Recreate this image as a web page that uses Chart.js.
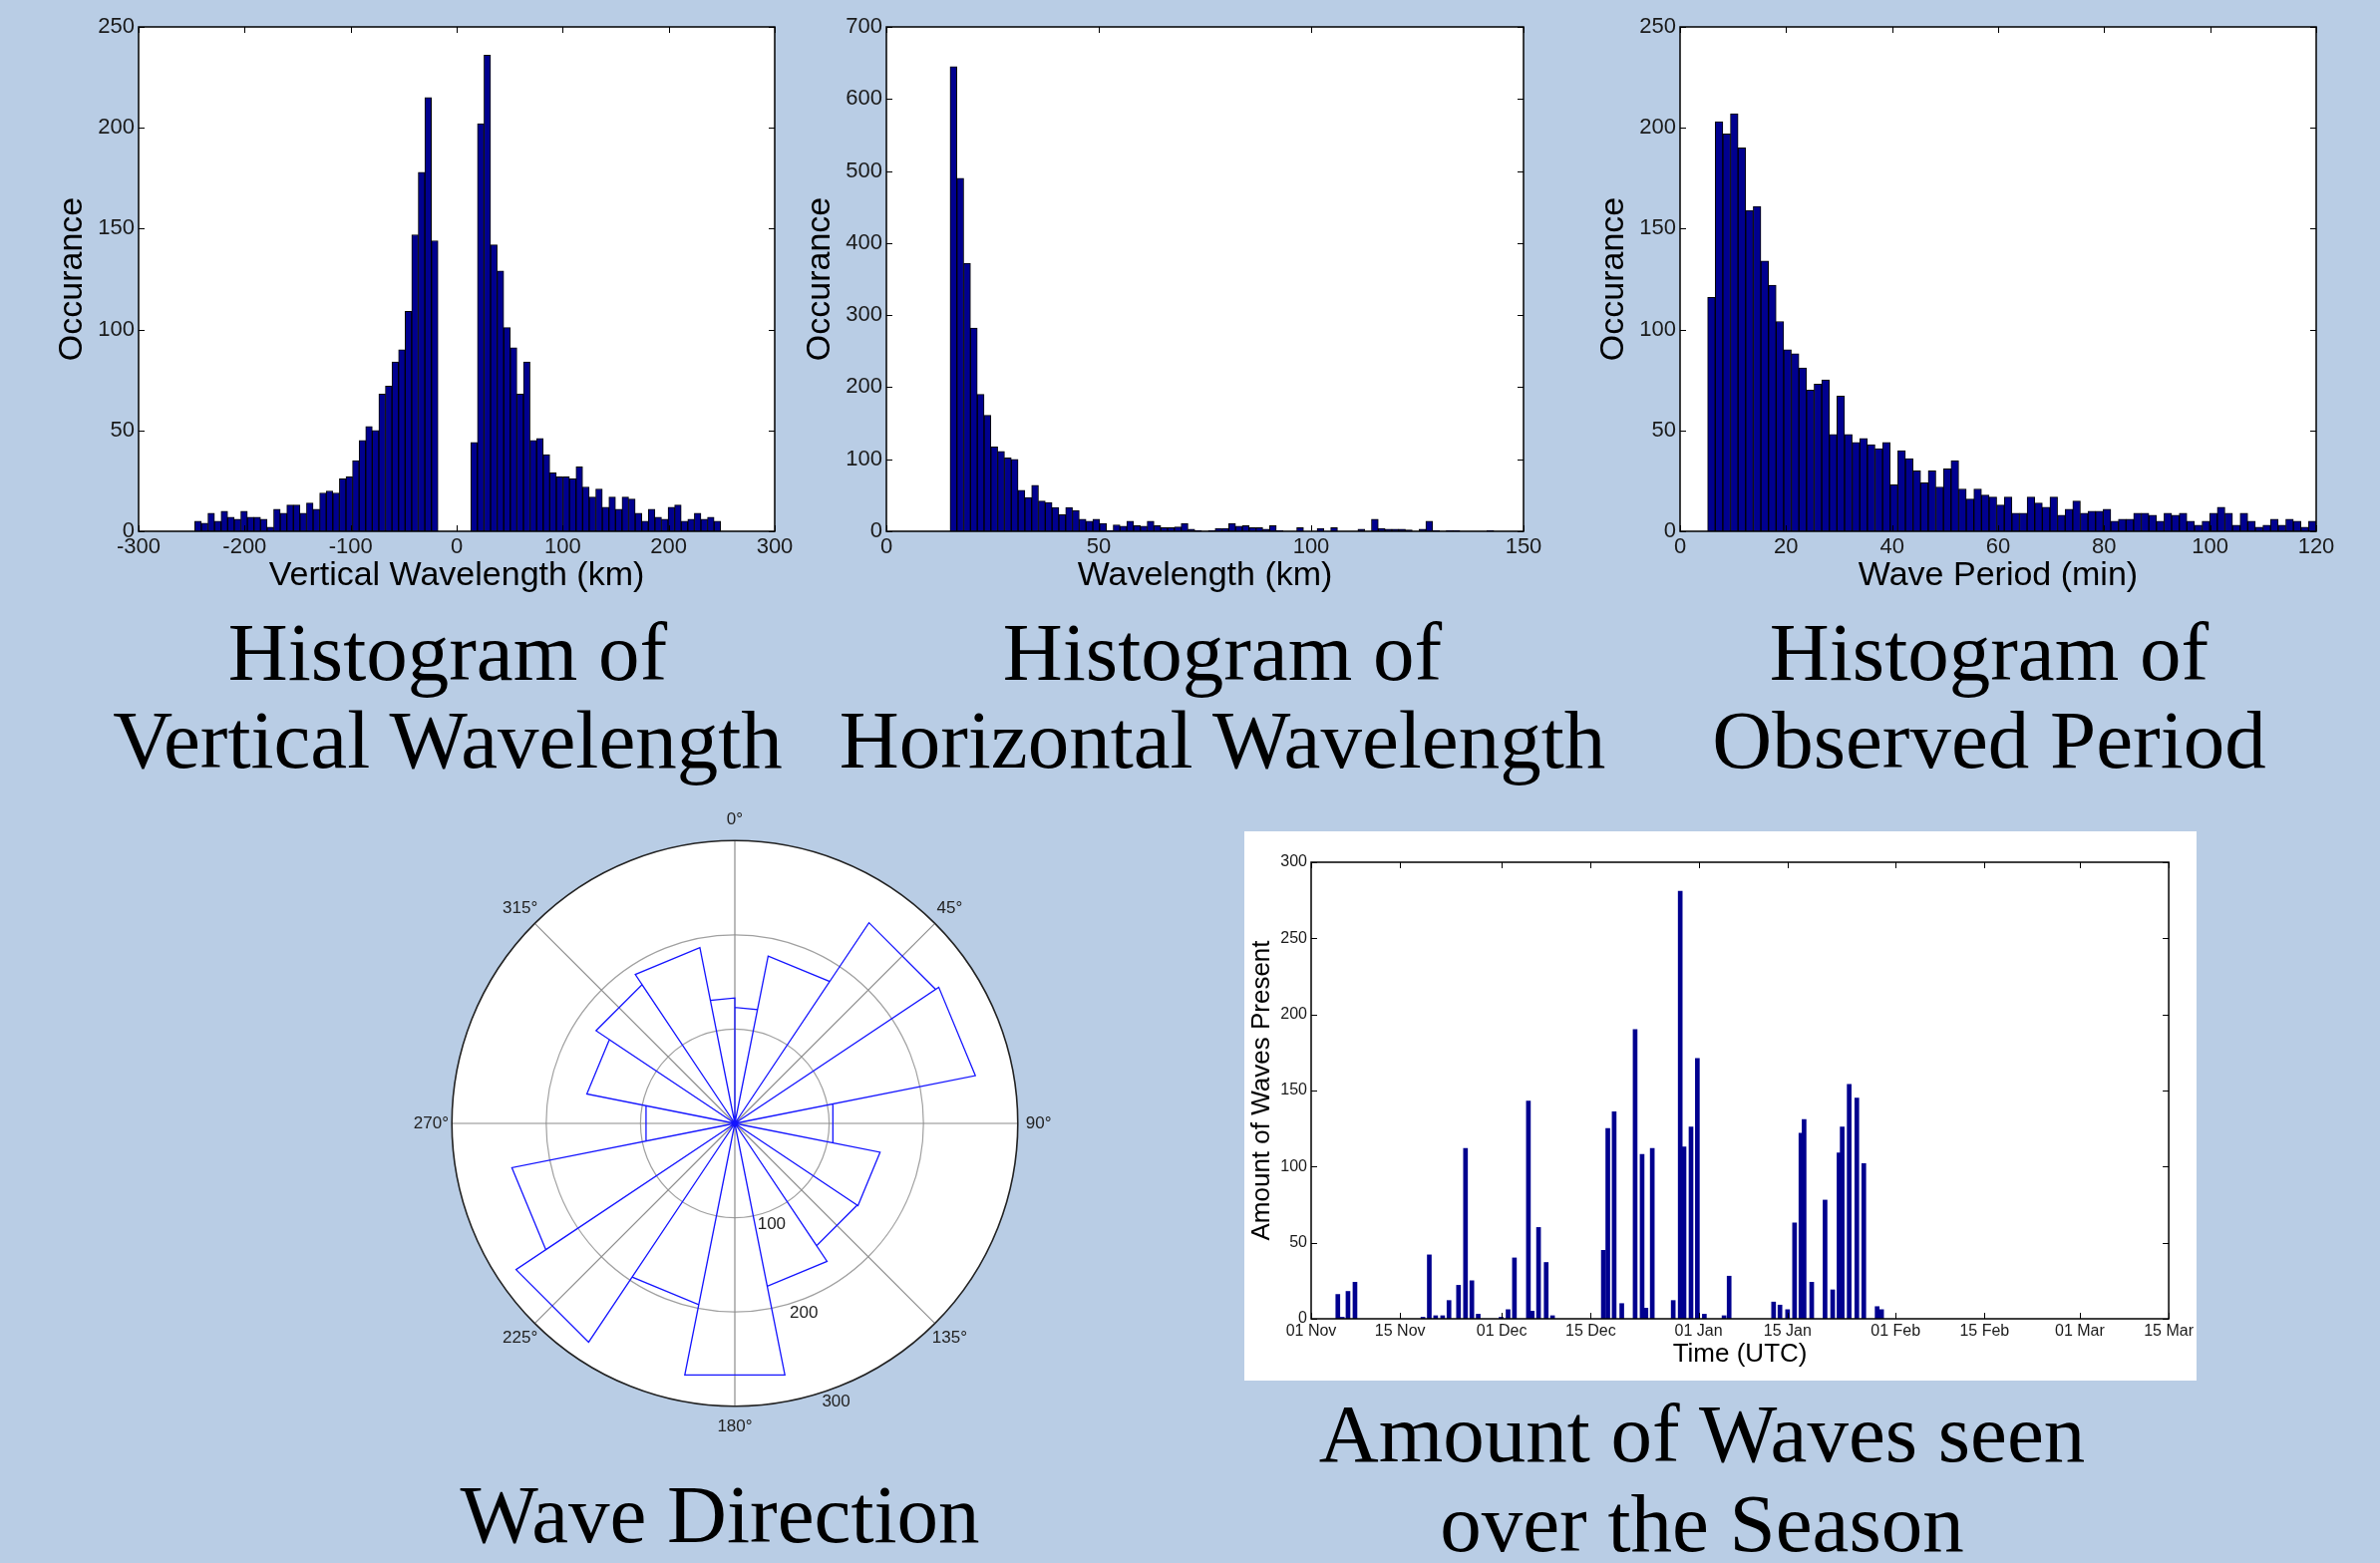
<!DOCTYPE html>
<html>
<head>
<meta charset="utf-8">
<title>Gravity wave statistics</title>
<script src="https://cdn.jsdelivr.net/npm/chart.js@4.4.1/dist/chart.umd.min.js"></script>
<style>
  body { margin: 0; width: 2387px; height: 1568px; background: #b9cde5; position: relative; overflow: hidden; }
  canvas { position: absolute; }
  .title { position: absolute; width: 1000px; text-align: center; white-space: nowrap;
           font-family: 'Liberation Serif', 'Times New Roman', serif; font-size: 83px; line-height: 88px; color: #000; }
</style>
</head>
<body>
<canvas id="vert" width="767" height="601" style="left:50px;top:0px"></canvas>
<canvas id="horiz" width="768" height="601" style="left:800px;top:0px"></canvas>
<canvas id="period" width="767" height="601" style="left:1596px;top:0px"></canvas>
<canvas id="rose" width="700" height="700" style="left:387px;top:777px"></canvas>
<canvas id="season" width="955" height="551" style="left:1248px;top:834px;background:#fff"></canvas>

<div class="title" style="left:-51px;top:610px">Histogram of<br>Vertical Wavelength</div>
<div class="title" style="left:726px;top:610px">Histogram of<br>Horizontal Wavelength</div>
<div class="title" style="left:1495px;top:610px">Histogram of<br>Observed Period</div>
<div class="title" style="left:222px;top:1475px">Wave Direction</div>
<div class="title" style="left:1207px;top:1393px;line-height:90px">Amount of Waves seen<br>over the Season</div>

<script>
// ---- values ----

// vertical wavelength histogram (km), 80 equal bins
const vertBinStart = -247;
const vertBinWidth = 6.2;
const vertCounts = [5, 4, 9, 5, 10, 7, 6, 10, 7, 7, 6, 2, 11, 9, 13, 13, 9, 14, 11, 19,
  20, 19, 26, 27, 35, 45, 52, 50, 68, 72, 84, 90, 109, 147, 178, 215, 144,
  0, 0, 0, 0, 0,
  44, 202, 236, 142, 129, 101, 91, 68, 84, 45, 46, 38, 29, 27, 27, 26, 32, 22, 17, 21,
  12, 17, 11, 17, 16, 9, 5, 11, 7, 6, 12, 13, 5, 6, 9, 6, 7, 5];
const vertXTicks = [-300, -200, -100, 0, 100, 200, 300];
const vertYTicks = [0, 50, 100, 150, 200, 250];

// horizontal wavelength histogram (km)
const horizBinStart = 15;
const horizBinWidth = 1.6;
const horizCounts = [645, 490, 372, 282, 190, 161, 117, 111, 102, 100, 57, 47, 64, 42, 40, 33, 23, 33, 29, 17,
  14, 17, 11, 1, 9, 7, 14, 8, 7, 14, 8, 5, 5, 6, 11, 3, 1, 0, 1, 4,
  4, 11, 7, 8, 5, 5, 3, 8, 1, 0, 0, 5, 0, 0, 4, 0, 5, 0, 0, 0,
  3, 0, 17, 4, 3, 3, 3, 2, 0, 3, 14, 1, 0, 1, 1, 0, 0, 0, 0, 1];
const horizXTicks = [0, 50, 100, 150];
const horizYTicks = [0, 100, 200, 300, 400, 500, 600, 700];

// observed period histogram (min)
const periodBinStart = 5.2;
const periodBinWidth = 1.435;
const periodCounts = [116, 203, 197, 207, 190, 159, 161, 134, 122, 104, 90, 88, 81, 70, 73, 75, 48, 67, 48, 44,
  46, 43, 41, 44, 23, 40, 36, 30, 24, 30, 22, 31, 35, 21, 16, 21, 18, 17, 13, 17,
  9, 9, 17, 14, 12, 17, 8, 11, 15, 9, 10, 10, 11, 5, 6, 6, 9, 9, 8, 5,
  9, 8, 9, 5, 3, 5, 9, 12, 9, 3, 9, 5, 2, 3, 6, 3, 6, 5, 2, 5];
const periodXTicks = [0, 20, 40, 60, 80, 100, 120];
const periodYTicks = [0, 50, 100, 150, 200, 250];

// wave direction rose, bin edges in degrees clockwise from north
const roseEdges = [0, 11.25, 33.75, 56.25, 78.75, 101.25, 123.75, 146.25, 168.75, 191.25,
  213.75, 236.25, 258.75, 281.25, 303.75, 326.25, 348.75, 360];
const roseCounts = [123, 181, 256, 260, 106, 157, 156, 176, 272, 196, 279, 241, 96, 160, 177, 190, 133];
const roseRings = [100, 200, 300];
const roseAngleTicks = [0, 45, 90, 135, 180, 225, 270, 315];

// waves per day, x = days after 01 Nov
const waveDays = [4.2, 4.9, 5.8, 6.9, 17.6, 18.6, 19.6, 20.7, 21.7, 23.2, 24.3, 25.3, 26.3,
  29.9, 31.0, 32.0, 34.2, 34.8, 35.8, 37.0, 38.0, 46.0, 46.7, 47.7, 48.9, 51.0, 52.1, 52.7, 53.7,
  57.0, 58.1, 58.7, 59.8, 60.8, 61.9, 65.0, 65.8, 72.8, 73.8, 75.0, 76.1, 77.1, 77.6, 78.8,
  80.9, 82.1, 83.1, 83.6, 84.7, 85.9, 87.0, 89.1, 89.8];
const waveCounts = [16, 1, 18, 24, 1, 42, 2, 2, 12, 22, 112, 25, 3,
  1, 6, 40, 143, 5, 60, 37, 2, 45, 125, 136, 10, 190, 108, 7, 112,
  12, 281, 113, 126, 171, 3, 2, 28, 11, 9, 6, 63, 122, 131, 24,
  78, 19, 109, 126, 154, 145, 102, 8, 6];
const timeTickDays = [0, 14, 30, 44, 61, 75, 92, 106, 121, 135];
const timeTickLabels = ['01 Nov', '15 Nov', '01 Dec', '15 Dec', '01 Jan', '15 Jan', '01 Feb', '15 Feb', '01 Mar', '15 Mar'];
const seasonYTicks = [0, 50, 100, 150, 200, 250, 300];

// ---- drawing ----
const NAVY = '#00008f';
Chart.defaults.font.family = "'Liberation Sans', Arial, sans-serif";
Chart.defaults.color = '#1a1a1a';

// white plot area, black box and inward ticks on all four sides (matlab look)
const plotBox = {
  id: 'plotBox',
  beforeDraw(chart) {
    const { ctx, chartArea: a } = chart;
    ctx.save();
    ctx.fillStyle = '#fff';
    ctx.fillRect(a.left, a.top, a.right - a.left, a.bottom - a.top);
    ctx.restore();
  },
  afterDatasetsDraw(chart) {
    const { ctx, chartArea: a, scales: { x, y } } = chart;
    const len = 6;
    ctx.save();
    ctx.strokeStyle = '#000';
    ctx.lineWidth = 1;
    ctx.beginPath();
    x.ticks.forEach(t => {
      const px = Math.round(x.getPixelForValue(t.value)) + 0.5;
      ctx.moveTo(px, a.bottom); ctx.lineTo(px, a.bottom - len);
      ctx.moveTo(px, a.top); ctx.lineTo(px, a.top + len);
    });
    y.ticks.forEach(t => {
      const py = Math.round(y.getPixelForValue(t.value)) + 0.5;
      ctx.moveTo(a.left, py); ctx.lineTo(a.left + len, py);
      ctx.moveTo(a.right, py); ctx.lineTo(a.right - len, py);
    });
    ctx.stroke();
    ctx.lineWidth = 1.5;
    ctx.strokeRect(a.left, a.top, a.right - a.left, a.bottom - a.top);
    ctx.restore();
  }
};

function fixedTicks(list) {
  return s => { s.ticks = list.map(v => ({ value: v })); };
}

function histogram(id, binStart, binWidth, counts, xTicks, yTicks, xTitle) {
  const pts = counts.map((c, i) => ({ x: binStart + binWidth * (i + 0.5), y: c }));
  new Chart(document.getElementById(id), {
    type: 'bar',
    data: {
      datasets: [{
        data: pts,
        backgroundColor: NAVY,
        borderColor: '#000',
        borderWidth: 1,
        borderSkipped: 'start',
        barPercentage: 1,
        categoryPercentage: 1
      }]
    },
    options: {
      responsive: false,
      animation: false,
      layout: { padding: { top: 27, right: 40 } },
      plugins: { legend: { display: false }, tooltip: { enabled: false } },
      scales: {
        x: {
          type: 'linear', offset: false,
          min: xTicks[0], max: xTicks[xTicks.length - 1],
          afterBuildTicks: fixedTicks(xTicks),
          afterFit: s => { s.height = 68; },
          grid: { display: false, drawTicks: false },
          border: { display: false },
          ticks: { font: { size: 22 }, padding: 3, maxRotation: 0, autoSkip: false },
          title: { display: true, text: xTitle, color: '#000', font: { size: 34 }, padding: { top: 4, bottom: 3 } }
        },
        y: {
          min: yTicks[0], max: yTicks[yTicks.length - 1],
          afterBuildTicks: fixedTicks(yTicks),
          afterFit: s => { s.width = 89; },
          grid: { display: false, drawTicks: false },
          border: { display: false },
          ticks: { font: { size: 22 }, padding: 4 },
          title: { display: true, text: 'Occurance', color: '#000', font: { size: 34 }, padding: { top: 2, bottom: 4 } }
        }
      }
    },
    plugins: [plotBox]
  });
}

histogram('vert', vertBinStart, vertBinWidth, vertCounts, vertXTicks, vertYTicks, 'Vertical Wavelength (km)');
histogram('horiz', horizBinStart, horizBinWidth, horizCounts, horizXTicks, horizYTicks, 'Wavelength (km)');
histogram('period', periodBinStart, periodBinWidth, periodCounts, periodXTicks, periodYTicks, 'Wave Period (min)');

// rose diagram: rings, spokes and labels drawn under the petals
const roseGrid = {
  id: 'roseGrid',
  beforeDatasetsDraw(chart) {
    const { ctx, scales: { x, y } } = chart;
    const cx = x.getPixelForValue(0), cy = y.getPixelForValue(0);
    const k = x.getPixelForValue(1) - cx;
    const rMax = roseRings[roseRings.length - 1] * k;
    const rad = d => d * Math.PI / 180;
    ctx.save();
    ctx.fillStyle = '#fff';
    ctx.beginPath(); ctx.arc(cx, cy, rMax, 0, 2 * Math.PI); ctx.fill();

    ctx.strokeStyle = '#a0a0a0';
    ctx.lineWidth = 1.2;
    roseRings.slice(0, -1).forEach(r => {
      ctx.beginPath(); ctx.arc(cx, cy, r * k, 0, 2 * Math.PI); ctx.stroke();
    });
    ctx.strokeStyle = '#8c8c8c';
    roseAngleTicks.forEach(a => {
      ctx.beginPath();
      ctx.moveTo(cx, cy);
      ctx.lineTo(cx + rMax * Math.sin(rad(a)), cy - rMax * Math.cos(rad(a)));
      ctx.stroke();
    });
    ctx.strokeStyle = '#222';
    ctx.lineWidth = 1.6;
    ctx.beginPath(); ctx.arc(cx, cy, rMax, 0, 2 * Math.PI); ctx.stroke();

    ctx.fillStyle = '#222';
    ctx.font = "17px 'Liberation Sans', Arial, sans-serif";
    ctx.textAlign = 'center';
    ctx.textBaseline = 'middle';
    roseAngleTicks.forEach(a => {
      const r = 322 * k;
      ctx.fillText(a + '°', cx + r * Math.sin(rad(a)), cy - r * Math.cos(rad(a)));
    });
    roseRings.forEach(v => {
      const r = (v + 14) * k;
      ctx.fillText(String(v), cx + r * Math.sin(rad(160)), cy - r * Math.cos(rad(160)));
    });
    ctx.restore();
  }
};

const petals = [];
roseCounts.forEach((c, i) => {
  const a1 = roseEdges[i] * Math.PI / 180, a2 = roseEdges[i + 1] * Math.PI / 180;
  petals.push({ x: 0, y: 0 },
    { x: c * Math.sin(a1), y: c * Math.cos(a1) },
    { x: c * Math.sin(a2), y: c * Math.cos(a2) },
    { x: 0, y: 0 });
});

new Chart(document.getElementById('rose'), {
  type: 'scatter',
  data: {
    datasets: [{ data: petals, showLine: true, borderColor: '#1414ff', borderWidth: 1.3, pointRadius: 0, fill: false, tension: 0 }]
  },
  options: {
    responsive: false,
    animation: false,
    layout: { padding: 0 },
    plugins: { legend: { display: false }, tooltip: { enabled: false } },
    scales: {
      x: { type: 'linear', min: -370, max: 370, display: false },
      y: { type: 'linear', min: -370, max: 370, display: false }
    }
  },
  plugins: [roseGrid]
});

// waves seen per day over the season
new Chart(document.getElementById('season'), {
  type: 'bar',
  data: {
    datasets: [{
      data: waveDays.map((d, i) => ({ x: d, y: waveCounts[i] })),
      backgroundColor: NAVY,
      borderWidth: 0,
      barThickness: 4
    }]
  },
  options: {
    responsive: false,
    animation: false,
    layout: { padding: { top: 31, right: 27, bottom: 8, left: 0 } },
    plugins: { legend: { display: false }, tooltip: { enabled: false } },
    scales: {
      x: {
        type: 'linear', offset: false,
        min: timeTickDays[0], max: timeTickDays[timeTickDays.length - 1],
        afterBuildTicks: fixedTicks(timeTickDays),
        afterFit: s => { s.height = 54; },
        grid: { display: false, drawTicks: false },
        border: { display: false },
        ticks: {
          font: { size: 16 }, padding: 3, maxRotation: 0, autoSkip: false,
          callback: v => timeTickLabels[timeTickDays.indexOf(v)]
        },
        title: { display: true, text: 'Time (UTC)', color: '#000', font: { size: 26 }, padding: { top: 4, bottom: 3 } }
      },
      y: {
        min: 0, max: 300,
        afterBuildTicks: fixedTicks(seasonYTicks),
        afterFit: s => { s.width = 67; },
        grid: { display: false, drawTicks: false },
        border: { display: false },
        ticks: { font: { size: 16 }, padding: 4 },
        title: { display: true, text: 'Amount of Waves Present', color: '#000', font: { size: 26 }, padding: { top: 2, bottom: 4 } }
      }
    }
  },
  plugins: [plotBox]
});
</script>
</body>
</html>
